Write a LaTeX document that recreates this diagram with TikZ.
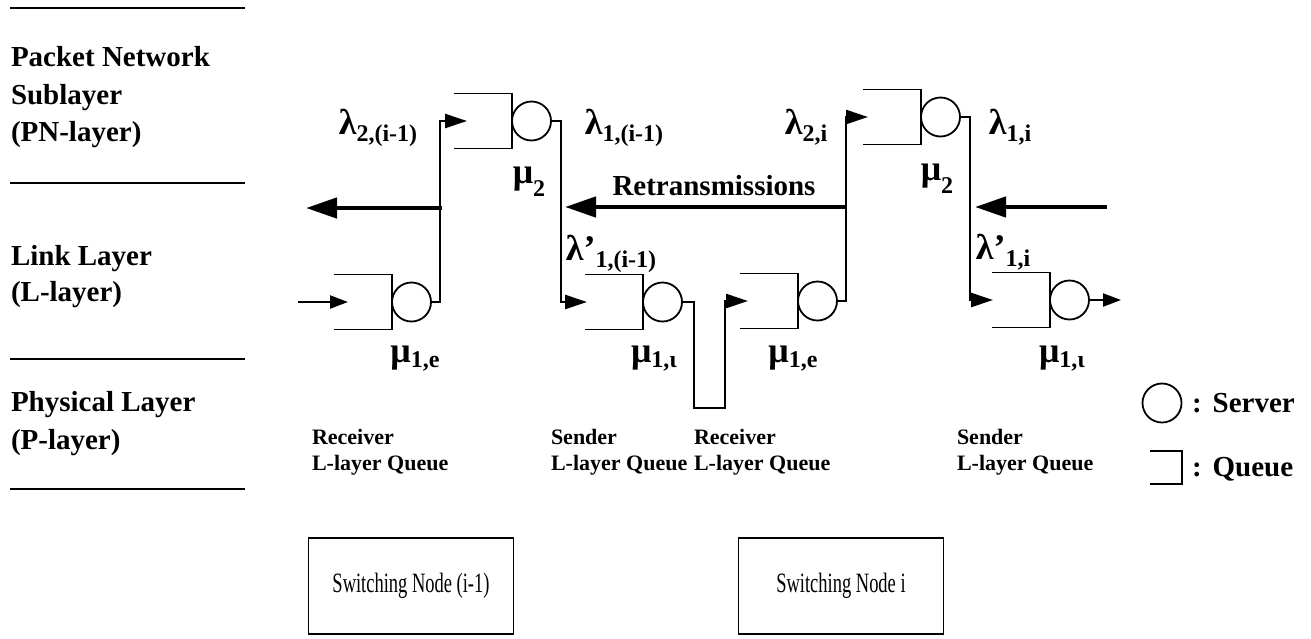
\documentclass[tikz,border=0pt]{standalone}
\usepackage{fontspec}
\setmainfont{Liberation Serif}
\usetikzlibrary{arrows.meta}
\newcommand{\gl}[2]{{\fontsize{36}{36}\selectfont #1}\raisebox{-7pt}{\fontsize{24}{24}\selectfont #2}}
\newcommand{\gm}[3]{{\fontsize{36}{36}\selectfont #1}\raisebox{#3}{\fontsize{24}{24}\selectfont #2}}
\newcommand{\queueat}[3]{%
  \node[qbox] (#1) at (#2,#3) {};
  \draw[qline] (#1.north west) -- (#1.north east) -- (#1.south east) -- (#1.south west);
  \node[srv, anchor=west] (#1s) at (#1.east) {};
}
\begin{document}
\begin{tikzpicture}[x=1pt,y=-1pt,
  every node/.style={inner sep=0pt, outer sep=0pt},
  qbox/.style={minimum width=58pt, minimum height=55pt},
  srv/.style={circle, draw, line width=1.8pt, minimum size=39pt},
  qline/.style={line width=1.8pt},
  rule/.style={line width=1.6pt},
  flow/.style={line width=2.6pt, -{Triangle[length=22pt,width=14pt]}},
  smallflow/.style={line width=2.2pt, -{Triangle[length=18pt,width=13pt]}},
  bigflow/.style={line width=4.5pt, -{Triangle[length=31pt,width=20pt]}},
  lbl/.style={font=\bfseries\fontsize{29}{37}\selectfont, anchor=base west},
  qlbl/.style={font=\bfseries\fontsize{22}{27}\selectfont, anchor=base west},
  sym/.style={font=\bfseries},
  swbox/.style={draw, line width=1.6pt, minimum width=205pt, minimum height=96pt},
]
\useasboundingbox (0,0) rectangle (1311,638);

% layer rules and labels
\foreach \yy/\nm in {8/r1,183/r2,359/r3,489/r4}{
  \draw[rule] (10,\yy) coordinate (\nm a) -- (245,\yy) coordinate (\nm b);
}
\node[lbl] (pn1) at (11,66) {Packet Network};
\node[lbl] (pn2) at (11,104) {Sublayer};
\node[lbl] (pn3) at (11,141) {(PN-layer)};
\node[lbl] (ll1) at (11,265) {Link Layer};
\node[lbl] (ll2) at (11,301) {(L-layer)};
\node[lbl] (pl1) at (11,411) {Physical Layer};
\node[lbl] (pl2) at (11,449) {(P-layer)};

% queues
\queueat{pq1}{483}{121}
\queueat{pq2}{892}{117}
\queueat{rq1}{363}{302}
\queueat{sq1}{614}{302}
\queueat{rq2}{769}{301}
\queueat{sq2}{1021}{300}

% connectors
\coordinate (in1) at (298,302);
\draw[smallflow] (in1) -- ([xshift=14pt]rq1.west);
\draw[flow] (rq1s.east) -- ++(9,0) |- ([xshift=13pt]pq1.west);
\coordinate (j1) at (442,208);
\coordinate (o1) at (306,208);
\draw[bigflow] (j1) -- (o1);
\draw[flow] (pq1s.east) -- ++(10,0) |- ([xshift=2pt]sq1.west);
\coordinate (rt1) at (846,207);
\coordinate (rt2) at (565,207);
\draw[bigflow] (rt1) -- (rt2);
\draw[flow] (sq1s.east) -- ++(12,0) |- ++(31,106) |- ([xshift=8pt]rq2.west);
\draw[flow] (rq2s.east) -- ++(9,0) |- ([xshift=5pt]pq2.west);
\draw[flow] (pq2s.east) -- ++(10,0) |- ([xshift=1pt]sq2.west);
\coordinate (ri1) at (1107,207);
\coordinate (ri2) at (975,207);
\draw[bigflow] (ri1) -- (ri2);
\coordinate (out1) at (1121,300);
\draw[smallflow] (sq2s.east) -- (out1);

% rate labels
\node[sym] (l1) at (378,128) {\gl{λ}{2,(i-1)}};
\node[sym] (l2) at (624,128) {\gl{λ}{1,(i-1)}};
\node[sym] (l3) at (806,127) {\gl{λ}{2,i}};
\node[sym] (l4) at (1010,127) {\gl{λ}{1,i}};
\node[sym] (l5) at (611,254) {\gl{λ’}{1,(i-1)}};
\node[sym] (l6) at (1003,252) {\gl{λ’}{1,i}};
\node[sym] (m1) at (529,182) {\gm{μ}{2}{-13pt}};
\node[sym] (m2) at (937,179) {\gm{μ}{2}{-13pt}};
\node[sym] (m3) at (415,359) {\gm{μ}{1,e}{-5pt}};
\node[sym] (m4) at (654,359) {\gm{μ}{1,ι}{-5pt}};
\node[sym] (m5) at (793,359) {\gm{μ}{1,e}{-5pt}};
\node[sym] (m6) at (1062,359) {\gm{μ}{1,ι}{-5pt}};
\node[lbl, anchor=base] (rt) at (714,195) {Retransmissions};

% queue labels
\node[qlbl] (c1a) at (312,444) {Receiver};
\node[qlbl] (c1b) at (312,470) {L-layer Queue};
\node[qlbl] (c2a) at (551,444) {Sender};
\node[qlbl] (c2b) at (551,470) {L-layer Queue};
\node[qlbl] (c3a) at (694,444) {Receiver};
\node[qlbl] (c3b) at (694,470) {L-layer Queue};
\node[qlbl] (c4a) at (957,444) {Sender};
\node[qlbl] (c4b) at (957,470) {L-layer Queue};

% legend
\node[srv] (leg1) at (1162,403) {};
\node[lbl] (leg1t) at (1192,412) {:\hspace{11pt}Server};
\node[minimum width=32pt, minimum height=33pt] (leg2) at (1166,467.5) {};
\draw[qline] (leg2.north west) -- (leg2.north east) -- (leg2.south east) -- (leg2.south west);
\node[lbl] (leg2t) at (1192,476) {:\hspace{11pt}Queue};

% switching nodes
\node[swbox] (sw1) at (411,586) {\scalebox{0.66}[1]{\fontsize{28}{32}\selectfont Switching Node (i-1)}};
\node[swbox] (sw2) at (841,586) {\scalebox{0.66}[1]{\fontsize{28}{32}\selectfont Switching Node i}};
\end{tikzpicture}
\end{document}
